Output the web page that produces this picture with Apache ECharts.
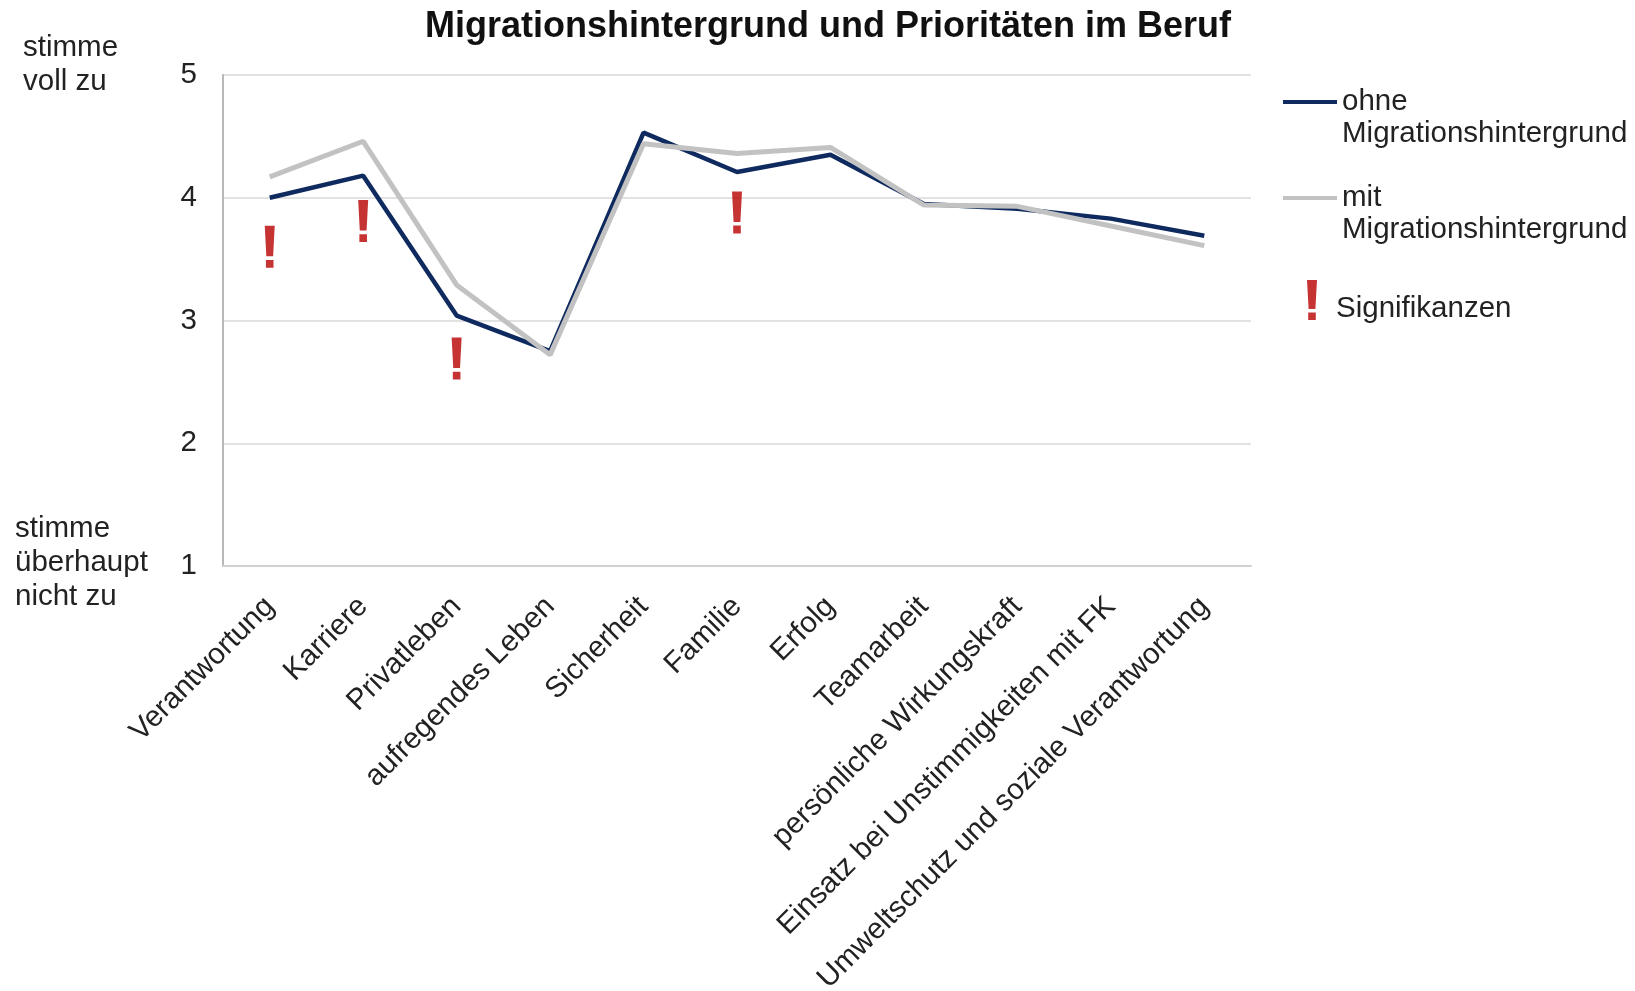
<!DOCTYPE html>
<html>
<head>
<meta charset="utf-8">
<script src="https://cdn.jsdelivr.net/npm/echarts@6/dist/echarts.min.js"></script>
<style>
html,body{margin:0;padding:0;background:#fff;}
#chart{width:1635px;height:991px;}
</style>
</head>
<body>
<div id="chart"></div>
<script>
const categories = ['Verantwortung', 'Karriere', 'Privatleben', 'aufregendes Leben', 'Sicherheit', 'Familie', 'Erfolg', 'Teamarbeit', 'persönliche Wirkungskraft', 'Einsatz bei Unstimmigkeiten mit FK', 'Umweltschutz und soziale Verantwortung'];
const ohneValues = [4.00, 4.18, 3.04, 2.75, 4.53, 4.21, 4.35, 3.95, 3.91, 3.83, 3.69];
const mitValues = [4.17, 4.46, 3.29, 2.72, 4.44, 4.36, 4.41, 3.94, 3.93, 3.77, 3.61];
const sigCategories = ['Verantwortung', 'Karriere', 'Privatleben', 'Familie'];
const sigValues = [3.60, 3.81, 2.69, 3.88];
const seriesNames = ['ohne\nMigrationshintergrund', 'mit\nMigrationshintergrund', 'Signifikanzen'];
const titleText = 'Migrationshintergrund und Prioritäten im Beruf';
const topAxisNote = 'stimme\nvoll zu';
const bottomAxisNote = 'stimme\nüberhaupt\nnicht zu';

const FONT = '"Liberation Sans", Arial, sans-serif';
const FS = 29.5;
const TXT = '#222222';
const NAVY = '#0f2a5f';
const GREY = '#c2c2c2';
const RED = '#b80000';
const excl = 'path://M0,0 L10,0 L8.4,29 L1.6,29 Z M1.2,32.5 L8.8,32.5 L8.8,40 L1.2,40 Z';

const chart = echarts.init(document.getElementById('chart'), null, {renderer: 'canvas'});
chart.setOption({
  backgroundColor: '#ffffff',
  animation: false,
  title: {
    text: titleText,
    left: 425, top: 7, padding: 0,
    textStyle: {fontFamily: FONT, fontSize: 36, fontWeight: 'bold', color: '#111', lineHeight: 40}
  },
  grid: {left: 223, right: 384, top: 75, bottom: 425, containLabel: false, outerBoundsMode: 'none'},
  legend: [{
    data: [seriesNames[0], seriesNames[1]],
    orient: 'vertical', left: 1283, top: 54, padding: 0,
    itemWidth: 54, itemHeight: 4, itemGap: 0, icon: 'rect',
    selectedMode: false,
    formatter: name => '\n' + name,
    textStyle: {fontFamily: FONT, fontSize: FS, lineHeight: 32, color: TXT}
  }, {
    data: [{name: seriesNames[2], icon: excl}],
    orient: 'vertical', left: 1307, top: 276, padding: 0,
    itemWidth: 10, itemHeight: 40, itemGap: 0,
    selectedMode: false,
    formatter: name => '{p|' + name + '}',
    textStyle: {
      fontFamily: FONT, fontSize: FS, lineHeight: 32, color: TXT,
      rich: {p: {fontFamily: FONT, fontSize: FS, lineHeight: 32, color: TXT, padding: [18, 0, 0, 14]}}
    }
  }],
  xAxis: {
    type: 'category', data: categories, boundaryGap: true,
    axisLine: {show: true, lineStyle: {color: '#d0d0d0', width: 2}},
    axisTick: {show: false},
    axisLabel: {rotate: 45, interval: 0, margin: 36, fontFamily: FONT, fontSize: FS, color: TXT}
  },
  yAxis: {
    type: 'value', min: 1, max: 5, interval: 1,
    axisLine: {show: true, lineStyle: {color: '#b8b8b8', width: 2}},
    axisTick: {show: false},
    splitLine: {show: true, lineStyle: {color: '#d9d9d9', width: 1.5}},
    axisLabel: {margin: 26, fontFamily: FONT, fontSize: FS, color: TXT}
  },
  graphic: [{
    type: 'text', left: 23, top: 31,
    style: {text: topAxisNote, font: FS + 'px ' + FONT, lineHeight: 34, fill: TXT}
  }, {
    type: 'text', left: 15, top: 512,
    style: {text: bottomAxisNote, font: FS + 'px ' + FONT, lineHeight: 34, fill: TXT}
  }],
  series: [{
    name: seriesNames[0], type: 'line', data: ohneValues, symbol: 'none',
    lineStyle: {color: NAVY, width: 4.5}, itemStyle: {color: NAVY}, z: 2
  }, {
    name: seriesNames[1], type: 'line', data: mitValues, symbol: 'none',
    lineStyle: {color: GREY, width: 5}, itemStyle: {color: GREY}, z: 3
  }, {
    name: seriesNames[2], type: 'scatter',
    data: sigCategories.map((c, i) => [c, sigValues[i]]),
    symbol: excl, symbolSize: [10, 42],
    itemStyle: {color: RED}, z: 4
  }]
});
</script>
</body>
</html>
